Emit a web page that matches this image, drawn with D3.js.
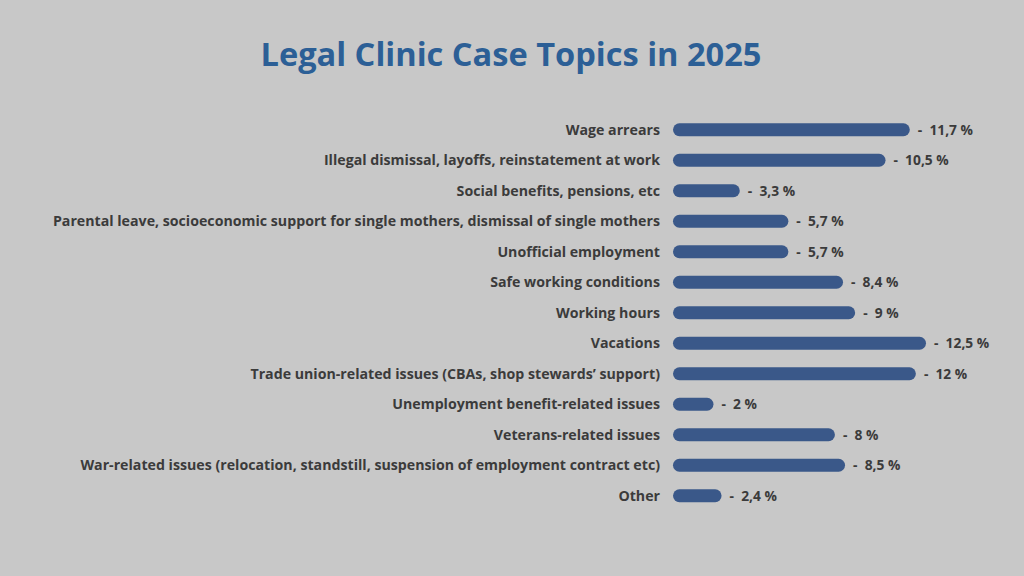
<!DOCTYPE html>
<html><head><meta charset="utf-8">
<script src="https://cdn.jsdelivr.net/npm/d3@7"></script>
<style>html,body{margin:0;padding:0;background:#c8c8c8;}svg{display:block;}</style>
</head><body>
<svg id="chart" width="1024" height="576"></svg>
<script>
const categories = [
  "Wage arrears",
  "Illegal dismissal, layoffs, reinstatement at work",
  "Social benefits, pensions, etc",
  "Parental leave, socioeconomic support for single mothers, dismissal of single mothers",
  "Unofficial employment",
  "Safe working conditions",
  "Working hours",
  "Vacations",
  "Trade union-related issues (CBAs, shop stewards’ support)",
  "Unemployment benefit-related issues",
  "Veterans-related issues",
  "War-related issues (relocation, standstill, suspension of employment contract etc)",
  "Other"
];
const values = [11.7, 10.5, 3.3, 5.7, 5.7, 8.4, 9, 12.5, 12, 2, 8, 8.5, 2.4];
const valueLabels = ["11,7 %", "10,5 %", "3,3 %", "5,7 %", "5,7 %", "8,4 %", "9 %", "12,5 %", "12 %", "2 %", "8 %", "8,5 %", "2,4 %"];
const title = "Legal Clinic Case Topics in 2025";

const FONT = "'Open Sans', sans-serif";
const svg = d3.select("#chart");
svg.append("rect").attr("width",1024).attr("height",576).attr("fill","#c8c8c8");

svg.append("text").attr("x",511).attr("y",66).attr("text-anchor","middle")
  .attr("font-family",FONT).attr("font-weight",700)
  .attr("font-size",32.6).attr("fill","#2c5f96").text(title);

const y = d3.scaleBand().domain(categories).range([114.5, 511]).paddingInner(0.58).paddingOuter(0.29);
const x = d3.scaleLinear().domain([0, 12.5]).range([673, 926]);

const g = svg.append("g");
const rows = g.selectAll("g.row").data(categories.map((c,i)=>({c, v:values[i], l:valueLabels[i]}))).join("g").attr("class","row");

rows.append("rect")
  .attr("x", x(0))
  .attr("y", d => y(d.c))
  .attr("width", d => x(d.v) - x(0))
  .attr("height", y.bandwidth())
  .attr("rx", y.bandwidth()/2)
  .attr("fill", "#3a5889");

rows.append("text")
  .attr("x", 660)
  .attr("y", d => y(d.c) + y.bandwidth()/2)
  .attr("dy","0.36em")
  .attr("text-anchor","end")
  .attr("font-family",FONT).attr("font-weight",700)
  .attr("font-size",14.2).attr("fill","#3b3b3b")
  .text(d => d.c);

rows.append("text")
  .attr("x", d => x(d.v) + 8)
  .attr("y", d => y(d.c) + y.bandwidth()/2)
  .attr("dy","0.36em")
  .attr("font-family",FONT).attr("font-weight",700)
  .attr("font-size",13.8).attr("fill","#3b3b3b")
  .attr("xml:space","preserve")
  .text(d => "-  " + d.l);
</script>
</body></html>
